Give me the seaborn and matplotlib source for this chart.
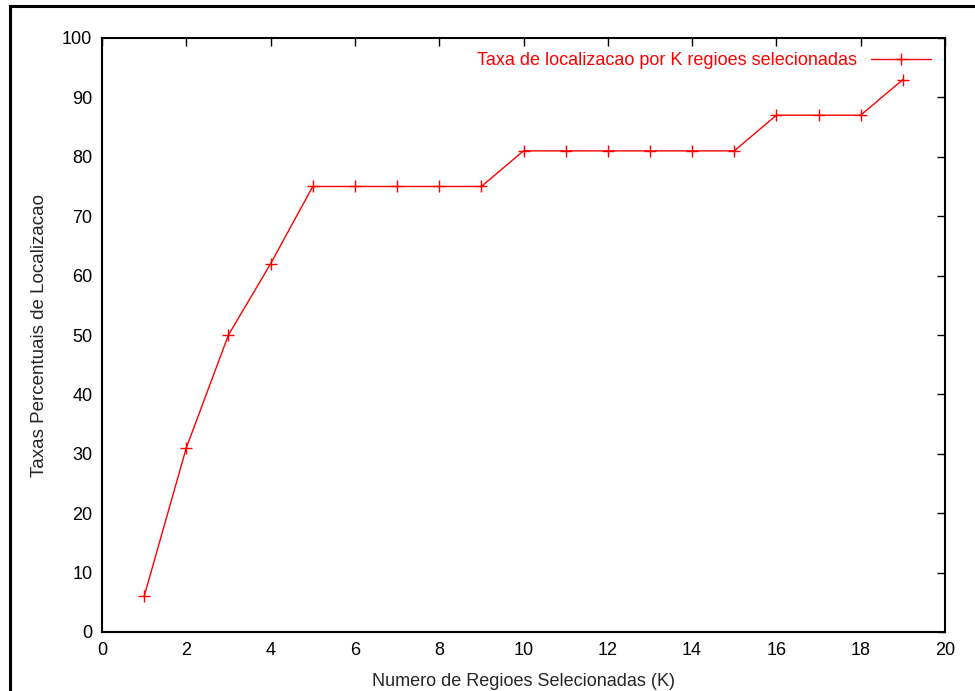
import matplotlib
matplotlib.use("Agg")
import matplotlib.pyplot as plt
import seaborn as sns
import pandas as pd
from matplotlib.patches import Rectangle

# data
k_values = list(range(1, 20))
taxa = [6, 31, 50, 62, 75, 75, 75, 75, 75, 81, 81, 81, 81, 81, 81, 87, 87, 87, 93]
legend_label = 'Taxa de localizacao por K regioes selecionadas'

df = pd.DataFrame({'K': k_values, 'Taxa': taxa})

sns.set_style('white')
plt.rcParams['font.family'] = ['Liberation Sans', 'DejaVu Sans']

fig = plt.figure(figsize=(9.75, 6.91), dpi=100)
ax = fig.add_axes([102 / 975, 1 - 632 / 691, (945 - 102) / 975, (632 - 38) / 691])

sns.lineplot(data=df, x='K', y='Taxa', ax=ax, color='red', linewidth=1,
             marker='+', markersize=8, markeredgewidth=1, markeredgecolor='red',
             label=legend_label)

ax.set_xlim(0, 20)
ax.set_ylim(0, 100)
ax.set_xticks(range(0, 21, 2))
ax.set_yticks(range(0, 101, 10))
ax.tick_params(direction='in', length=6, width=1, top=True, right=True,
               labelsize=13, pad=7, colors='black')
ax.tick_params(axis='x', labeltop=False)
ax.tick_params(axis='y', labelright=False)
for s in ax.spines.values():
    s.set_visible(True)
    s.set_color('black')
    s.set_linewidth(1.5)

ax.set_xlabel('Numero de Regioes Selecionadas (K)', fontsize=13, labelpad=10)
ax.set_ylabel('Taxas Percentuais de Localizacao', fontsize=13.5, labelpad=10)

leg = ax.legend(loc='upper right', frameon=False, fontsize=13, markerfirst=False,
                handlelength=3.3, handletextpad=0.8, borderaxespad=0.4)
for t in leg.get_texts():
    t.set_color('red')

# outer frame (left and top edges visible, rest cropped)
fig.patches.append(Rectangle((10 / 975, -0.1), 1.2, 1 - 6 / 691 + 0.1,
                             transform=fig.transFigure, fill=False,
                             edgecolor='black', linewidth=2.2))

fig.savefig('out.png', dpi=100)
